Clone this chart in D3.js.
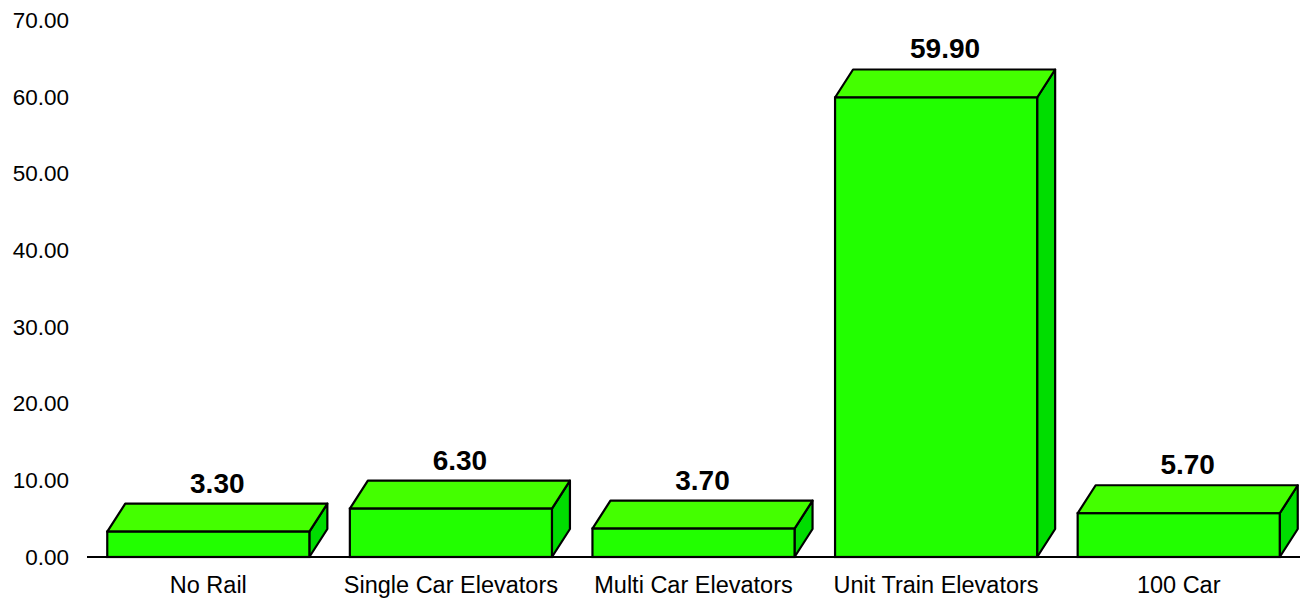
<!DOCTYPE html>
<html><head><meta charset="utf-8">
<script src="https://cdn.jsdelivr.net/npm/d3@7/dist/d3.min.js"></script>
<style>body{margin:0;background:#fff}svg{display:block}text{font-family:"Liberation Sans",Arial,sans-serif}</style>
</head><body><svg id="c" width="1303" height="599"></svg>
<script>
const categories = ["No Rail","Single Car Elevators","Multi Car Elevators","Unit Train Elevators","100 Car"];
const values = [3.30, 6.30, 3.70, 59.90, 5.70];
const yTicks = [0,10,20,30,40,50,60,70];

const svg = d3.select("#c");
const x = d3.scaleBand().domain(categories).range([87,1300]).paddingInner(0.167).paddingOuter(0.0835);
const y = d3.scaleLinear().domain([0,70]).range([557,20]);
const dx = 18, dy = 28;

// y labels
svg.append("g").selectAll("text").data(yTicks).join("text")
  .attr("x", 69).attr("y", d => y(d)).attr("dy","0.35em")
  .attr("text-anchor","end").attr("font-size",22.5).attr("fill","#000")
  .text(d => d3.format(".2f")(d));

// baseline
svg.append("line").attr("x1",87).attr("x2",1300).attr("y1",y(0)).attr("y2",y(0))
  .attr("stroke","#000").attr("stroke-width",2);

const g = svg.append("g").selectAll("g").data(categories).join("g");
g.each(function(c,i){
  const s = d3.select(this);
  const x0 = x(c), x1 = x(c)+x.bandwidth(), yt = y(values[i]), yb = y(0);
  s.append("path").attr("d",`M${x1},${yb}L${x1+dx},${yb-dy}L${x1+dx},${yt-dy}L${x1},${yt}Z`)
    .attr("fill","#00dd00").attr("stroke","#000").attr("stroke-width",2.2).attr("stroke-linejoin","round");
  s.append("path").attr("d",`M${x0},${yt}L${x0+dx},${yt-dy}L${x1+dx},${yt-dy}L${x1},${yt}Z`)
    .attr("fill","#44ff00").attr("stroke","#000").attr("stroke-width",2.2).attr("stroke-linejoin","round");
  s.append("rect").attr("x",x0).attr("y",yt).attr("width",x.bandwidth()).attr("height",yb-yt)
    .attr("fill","#22ff00").attr("stroke","#000").attr("stroke-width",2.2);
  s.append("text").attr("x",(x0+x1)/2+dx/2).attr("y",yt-dy-11)
    .attr("text-anchor","middle").attr("font-size",28).attr("font-weight","bold").attr("fill","#000")
    .text(d3.format(".2f")(values[i]));
  s.append("text").attr("x",(x0+x1)/2).attr("y",593)
    .attr("text-anchor","middle").attr("font-size",23.5).attr("fill","#000").text(c);
});
</script></body></html>
